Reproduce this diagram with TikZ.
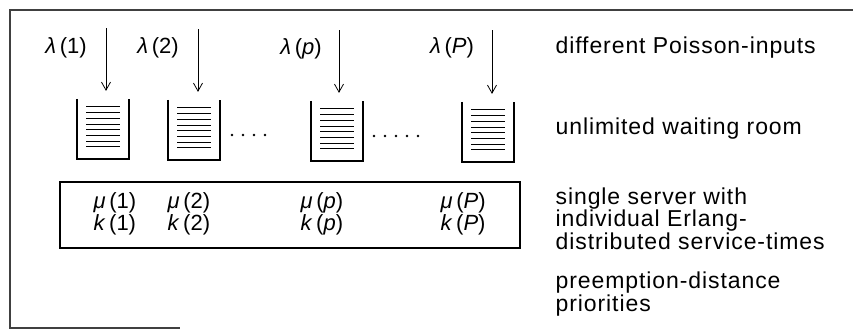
\documentclass[tikz,border=0pt]{standalone}
\usepackage{fontspec}
\setmainfont{Liberation Sans}
\newfontfamily\notefont{Liberation Sans}[LetterSpace=4]
\usetikzlibrary{arrows.meta,positioning}

\tikzset{
  lbl/.style={font=\fontsize{22}{20}\selectfont, inner sep=0pt},
  note/.style={font=\notefont\fontsize{23}{19.5}\selectfont, inner sep=0pt, anchor=base west, align=left},
  queue/.style={minimum width=50pt, minimum height=59pt, inner sep=0pt},
  feed/.style={-{Straight Barb[length=8pt,width=9pt]}, line width=0.8pt, shorten >=8pt},
}

\begin{document}
\begin{tikzpicture}[x=1pt, y=-1pt, line width=1.2pt]
\useasboundingbox (0,0) rectangle (853,335);
% frame
\draw[line width=1.6pt, black!75] (853,10) -- (10,10) -- (10,328) -- (180,328);

% waiting rooms
\node[queue] (q1) at (103,129) {};
\node[queue] (q2) at (194,130) {};
\node[queue] (qp) at (337,131) {};
\node[queue] (qP) at (488,132) {};
\foreach \q in {q1,q2,qp,qP} {
  \draw[line width=2pt] (\q.north west) -- (\q.south west) -- (\q.south east) -- (\q.north east);
  \foreach \i in {0,...,7}
    \draw[line width=1pt] ([xshift=9pt,yshift=-8pt-\i*5.7pt]\q.north west) -- ++(34pt,0pt);
}
\foreach \x in {232,243,254,265} \fill (\x,135) circle (1.4pt);
\foreach \x in {374,385,396,407,418} \fill (\x,136) circle (1.4pt);

% inputs
\coordinate (a1) at (106,28);
\coordinate (a2) at (198,29);
\coordinate (ap) at (339,30);
\coordinate (aP) at (492,30);
\draw[feed] (a1) -- (a1 |- q1.north);
\draw[feed] (a2) -- (a2 |- q2.north);
\draw[feed] (ap) -- (ap |- qp.north);
\draw[feed] (aP) -- (aP |- qP.north);
\node[lbl] (l1) at (66,48) {\textit{λ}\,(1)};
\node[lbl] (l2) at (158,48) {\textit{λ}\,(2)};
\node[lbl] (lp) at (301,49) {\textit{λ}\,(\textit{p})};
\node[lbl] (lP) at (452,48) {\textit{λ}\,(\textit{P})};

% server
\node[draw, line width=1.8pt, minimum width=460pt, minimum height=66pt] (srv) at (290,215) {};
\node[lbl, anchor=west] (m1) at (93,203) {\textit{μ}\,(1)};
\node[lbl, anchor=west] (m2) at (167,203) {\textit{μ}\,(2)};
\node[lbl, anchor=west] (mp) at (300,203) {\textit{μ}\,(\textit{p})};
\node[lbl, anchor=west] (mP) at (440,203) {\textit{μ}\,(\textit{P})};
\node[lbl, below=0pt of m1.south west, anchor=north west] (k1) {\textit{k}\,(1)};
\node[lbl, below=0pt of m2.south west, anchor=north west] (k2) {\textit{k}\,(2)};
\node[lbl, below=0pt of mp.south west, anchor=north west] (kp) {\textit{k}\,(\textit{p})};
\node[lbl, below=0pt of mP.south west, anchor=north west] (kP) {\textit{k}\,(\textit{P})};

% notes
\node[note] (n1) at (555,53) {different Poisson-inputs};
\node[note] (n2) at (555,134) {unlimited waiting room};
\node[note] (n3) at (555,249) {single server with\\individual Erlang-\\distributed service-times};
\node[note] (n4) at (555,311) {preemption-distance\\priorities};
\end{tikzpicture}
\end{document}
